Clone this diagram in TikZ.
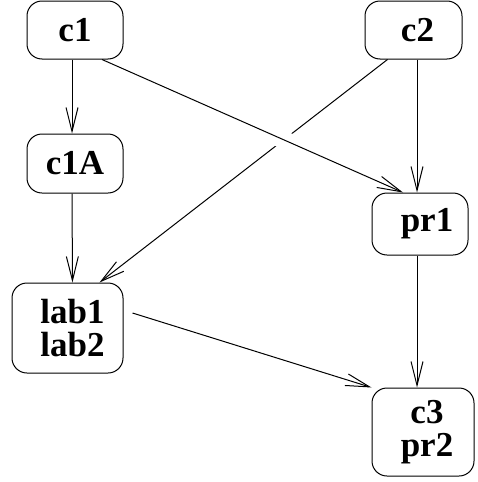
\documentclass[tikz,border=0pt]{standalone}
\usepackage{fontspec}
\setmainfont{Liberation Serif}
\usetikzlibrary{arrows.meta}
\begin{document}
\begin{tikzpicture}[x=1pt,y=1pt,
  box/.style={draw, line width=1pt, rounded corners=15pt, inner sep=0pt, align=center,
    font=\fontsize{35}{33}\selectfont\bfseries},
  conn/.style={line width=1pt, -{Straight Barb[length=24pt,width=12pt,line width=1pt]}}]
\useasboundingbox (0,0) rectangle (477,-482);
\node[box, minimum width=96pt, minimum height=58pt] (c1) at (75,-30) {c1};
\node[box, minimum width=97pt, minimum height=58pt] (c2) at (413.5,-30) {\hspace*{8pt}c2};
\node[box, minimum width=96pt, minimum height=59pt] (c1A) at (75,-163.5) {c1A};
\node[box, minimum width=96pt, minimum height=62pt] (pr1) at (420,-224) {\hspace*{14pt}pr1};
\node[box, minimum width=111pt, minimum height=90pt] (lab) at (67.5,-328) {\hspace*{10pt}lab1\\\hspace*{10pt}lab2};
\node[box, minimum width=102pt, minimum height=88pt] (c3) at (423,-432) {\hspace*{8pt}c3\\\hspace*{8pt}pr2};
\draw[conn] ([xshift=-3pt]c1.south) -- ([xshift=-3pt]c1A.north);
\draw[conn] ([xshift=-3pt]c1A.south) -- ([xshift=5pt]lab.north);
\draw[conn] ([xshift=3.5pt]c2.south) -- ([xshift=-3pt]pr1.north);
\draw[conn] ([xshift=-3pt]pr1.south) -- ([xshift=-6pt]c3.north);
\draw[conn] ([xshift=-26pt]c2.south) -- ([xshift=32pt]lab.north);
\draw[conn, preaction={draw=white, line width=18pt, -, shorten <=150pt, shorten >=90pt}]
  ([xshift=27pt]c1.south) -- ([xshift=-17pt]pr1.north);
\draw[conn] ([shift={(9pt,15pt)}]lab.east) -- (c3.north west);
\end{tikzpicture}
\end{document}
